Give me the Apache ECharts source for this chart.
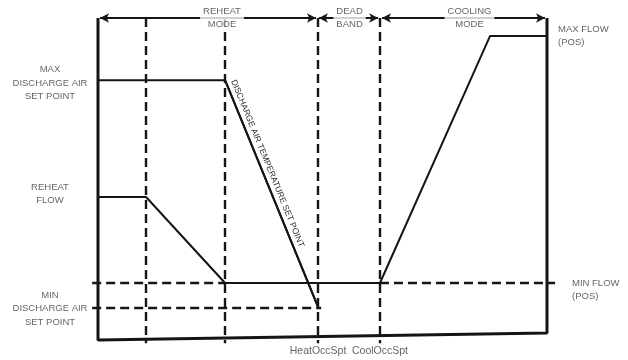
<!DOCTYPE html>
<html><head><meta charset="utf-8">
<script src="https://cdn.jsdelivr.net/npm/echarts@6/dist/echarts.min.js"></script>
<style>html,body{margin:0;padding:0;background:#fff}#c{width:628px;height:360px}</style>
</head><body><div id="c"></div>
<script>
// Schematic axes: x = zone temperature (0..100), y = output level (0..100)
const dividerX = [10.7, 28.3, 49.0, 62.8];
const setpointNames = ['HeatOccSpt', 'CoolOccSpt'];
const setpointX = [49.0, 62.8];
const modeNames = ['REHEAT\nMODE', 'DEAD\nBAND', 'COOLING\nMODE'];
const modeStart = [0.45, 49.2, 63.25];
const modeEnd = [48.55, 62.4, 99.55];
const datX = [0, 28.3, 49.0];
const datY = [80.7, 80.7, 10.3];
const datLabel = 'DISCHARGE AIR TEMPERATURE SET POINT';
const flowX = [0, 10.7, 28.3, 62.8, 87.3, 100];
const flowY = [44.4, 44.4, 17.7, 17.7, 94.4, 94.4];
const boundX = [0, 0, 100, 100];
const boundY = [100, 0, 2.2, 100];
const minFlowY = 17.7;
const minDatY = 10.1;
const leftLabels = ['MAX\nDISCHARGE AIR\nSET POINT', 'REHEAT\nFLOW', 'MIN\nDISCHARGE AIR\nSET POINT'];
const leftLabelY = [80.7, 44.4, 10.1];
const rightLabels = ['MAX FLOW\n(POS)', 'MIN FLOW\n(POS)'];
const rightLabelY = [94.4, 17.7];

const INK = '#151515', TXT = '#3c3c3c', FONT = 'Liberation Sans';
const zip = (xs, ys) => xs.map((x, i) => [x, ys[i]]);

const ann = [];
const leftNudge = [3, -3, 1];
leftLabels.forEach((t, i) => ann.push({ value: [0, leftLabelY[i]], label: { formatter: t, offset: [-48, leftNudge[i]] } }));
ann.push({ value: [100, rightLabelY[0]], label: { formatter: rightLabels[0], align: 'left', offset: [11, 0] } });
ann.push({ value: [100, rightLabelY[1]], label: { formatter: rightLabels[1], align: 'left', offset: [25, 7] } });
const modeNudge = [14, 1, 6];
modeNames.forEach((t, i) => ann.push({ value: [(modeStart[i] + modeEnd[i]) / 2, 100], label: { formatter: t, offset: [modeNudge[i], 0], backgroundColor: '#fff', padding: [0, 3] } }));
setpointNames.forEach((t, i) => ann.push({ value: [setpointX[i], 0], label: { formatter: t, offset: [0, 11], fontSize: 10.5 } }));

const dashed = [];
dividerX.forEach(x => dashed.push([{ coord: [x, 100] }, { coord: [x, -1] }]));
dashed.push([{ coord: [-1.3, minFlowY] }, { coord: [28.3, minFlowY] }]);
dashed.push([{ coord: [62.8, minFlowY] }, { coord: [101.8, minFlowY] }]);
dashed.push([{ coord: [-1.3, minDatY] }, { coord: [49.7, minDatY] }]);

const chart = echarts.init(document.getElementById('c'), null, { renderer: 'canvas' });
chart.setOption({
  animation: false,
  backgroundColor: '#fff',
  // axis range padded by 5 units on each side so marks just outside the frame are kept
  grid: { left: 75.55, right: 58.55, top: 1.9, bottom: 3.9 },
  xAxis: { type: 'value', min: -5, max: 105, show: false },
  yAxis: { type: 'value', min: -5, max: 105, show: false },
  series: [
    {
      name: 'boundary', type: 'line', data: zip(boundX, boundY), symbol: 'none', silent: true, clip: false,
      lineStyle: { color: INK, width: 3 },
      markLine: {
        silent: true, symbol: 'none', label: { show: false },
        lineStyle: { color: INK, width: 2.4, type: [9, 5] },
        emphasis: { disabled: true }, data: dashed
      }
    },
    {
      name: 'flow', type: 'line', data: zip(flowX, flowY), symbol: 'none', silent: true, clip: false,
      lineStyle: { color: INK, width: 2 },
      markLine: {
        silent: true, symbol: ['arrow', 'arrow'], symbolSize: [7, 9], label: { show: false },
        lineStyle: { color: INK, width: 1.8, type: 'solid' }, emphasis: { disabled: true },
        data: modeNames.map((n, i) => [{ coord: [modeStart[i], 100] }, { coord: [modeEnd[i], 100] }])
      }
    },
    {
      name: 'dat', type: 'line', data: zip(datX, datY), symbol: 'none', silent: true, clip: false,
      lineStyle: { color: INK, width: 2 },
      markLine: {
        silent: true, symbol: 'none', emphasis: { disabled: true },
        lineStyle: { color: INK, width: 2, type: 'solid' },
        label: { show: true, position: 'insideStartTop', distance: 3, formatter: datLabel, color: '#2a2a2a', fontSize: 8.5, fontFamily: FONT },
        data: [[{ coord: [datX[1], datY[1]] }, { coord: [datX[2], datY[2]] }]]
      }
    },
    {
      name: 'text', type: 'scatter', data: ann, symbolSize: 0, silent: true, clip: false, z: 10,
      itemStyle: { color: 'rgba(0,0,0,0)' },
      label: { show: true, position: 'inside', color: TXT, fontSize: 9.5, lineHeight: 13.5, fontFamily: FONT, align: 'center', verticalAlign: 'middle' }
    }
  ]
});
</script></body></html>
